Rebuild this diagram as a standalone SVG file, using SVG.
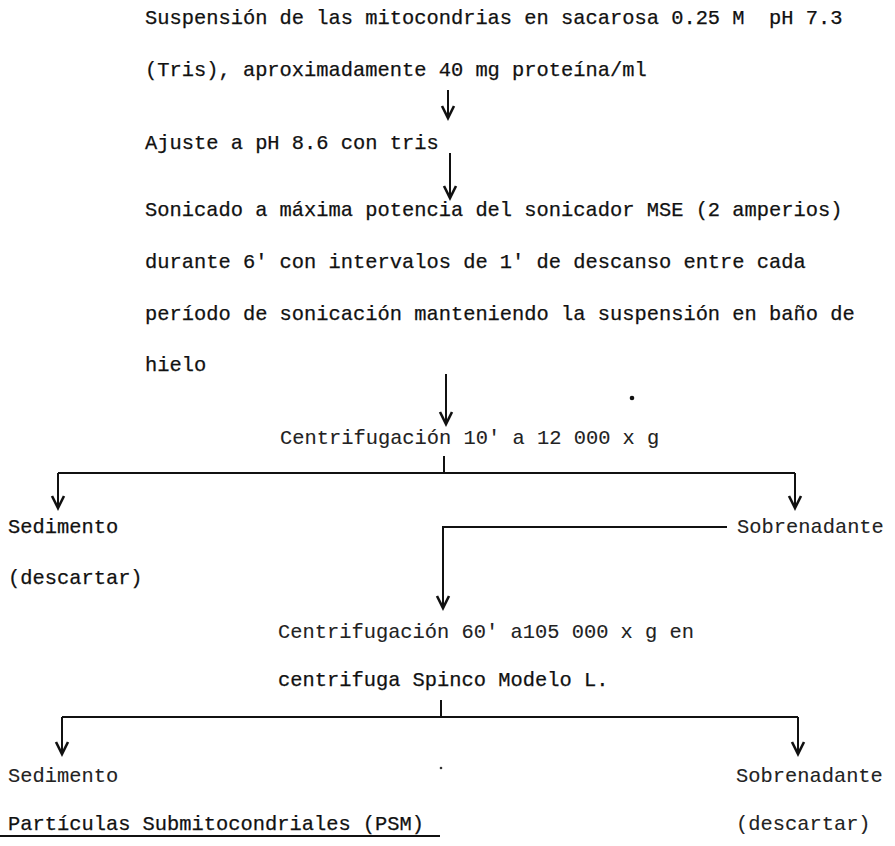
<svg xmlns="http://www.w3.org/2000/svg" width="895" height="846" viewBox="0 0 895 846">
<style>
  text { font-family: "Liberation Mono", "Courier New", monospace; font-size: 20.4px; fill: #111; stroke: #111; stroke-width: 0.25px; }
  .lt { stroke-width: 0.1px; fill: #222; stroke: #222; }
  .ln { stroke: #111; stroke-width: 2; fill: none; }
</style>
<defs>
  <marker id="ah" markerUnits="userSpaceOnUse" markerWidth="18" markerHeight="18" refX="0" refY="0" viewBox="-14 -9 16 18" orient="auto">
    <path d="M-12,-6 L0,0 L-12,6" fill="none" stroke="#111" stroke-width="2.6"/>
  </marker>
</defs>
<rect width="895" height="846" fill="#fff"/>
<g id="connectors">
  <line class="ln" x1="448" y1="90" x2="448" y2="118" marker-end="url(#ah)"/>
  <line class="ln" x1="450" y1="153" x2="450" y2="198" marker-end="url(#ah)"/>
  <line class="ln" x1="446" y1="374" x2="446" y2="424" marker-end="url(#ah)"/>
  <path class="ln" d="M444,456 V473 M58,473 H795"/>
  <line class="ln" x1="58" y1="473" x2="58" y2="508" marker-end="url(#ah)"/>
  <line class="ln" x1="795" y1="473" x2="795" y2="508" marker-end="url(#ah)"/>
  <path class="ln" d="M727,527 H443 V608" marker-end="url(#ah)"/>
  <path class="ln" d="M441,700 V717 M62,717 H798"/>
  <line class="ln" x1="62" y1="717" x2="62" y2="754" marker-end="url(#ah)"/>
  <line class="ln" x1="798" y1="717" x2="798" y2="754" marker-end="url(#ah)"/>
  <line class="ln" x1="0" y1="836" x2="440" y2="836" stroke-width="1.5"/>
</g>
<g id="n1"><text x="145" y="24">Suspensión de las mitocondrias en sacarosa 0.25 M&#160; pH 7.3</text>
<text x="145" y="76">(Tris), aproximadamente 40 mg proteína/ml</text></g>
<g id="n2"><text x="145" y="149">Ajuste a pH 8.6 con tris</text></g>
<g id="n3"><text x="145" y="216">Sonicado a máxima potencia del sonicador MSE (2 amperios)</text>
<text x="145" y="268">durante 6' con intervalos de 1' de descanso entre cada</text>
<text x="145" y="320">período de sonicación manteniendo la suspensión en baño de</text>
<text x="145" y="371">hielo</text></g>
<g id="marks"><circle cx="632" cy="398" r="2.3" fill="#111"/><circle cx="441" cy="768" r="1.3" fill="#333"/></g>
<g id="n4"><text class="lt" x="280" y="444">Centrifugación 10' a 12 000 x g</text></g>
<g id="n5"><text x="8" y="533">Sedimento</text><text x="8" y="584">(descartar)</text></g>
<g id="n6"><text class="lt" x="737" y="533">Sobrenadante</text></g>
<g id="n7"><text class="lt" x="278" y="638">Centrifugación 60' a105 000 x g en</text>
<text x="278" y="686">centrifuga Spinco Modelo L.</text></g>
<g id="n8"><text class="lt" x="8" y="782">Sedimento</text><text x="8" y="830">Partículas Submitocondriales (PSM)</text></g>
<g id="n9"><text class="lt" x="736" y="782">Sobrenadante</text><text class="lt" x="736" y="830">(descartar)</text></g>
</svg>
